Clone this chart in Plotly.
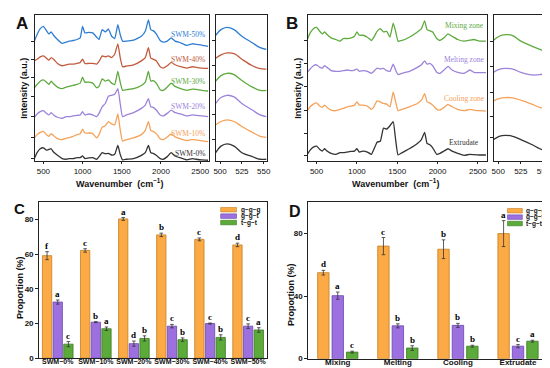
import plotly.graph_objects as go

# ---------------- DATA ----------------
wn = [385, 420, 460, 500, 540, 570, 600, 630, 680, 740, 790, 830, 880, 930, 970, 1000,
      1030, 1080, 1130, 1180, 1210, 1250, 1290, 1330, 1370, 1410, 1450, 1480, 1510, 1560,
      1650, 1750, 1800, 1840, 1870, 1900, 1940, 1990, 2030, 2080, 2130, 2180, 2250, 2330,
      2400, 2450, 2520, 2600]

swm_names = ["SWM-50%", "SWM-40%", "SWM-30%", "SWM-20%", "SWM-10%", "SWM-0%"]
swm50 = [365,385,403,410,397,387,393,383,370,358,362,365,367,370,375,410,390,392,390,377,370,400,393,402,380,373,415,385,365,365,368,380,395,430,400,397,387,367,362,365,375,365,360,352,357,355,353,349]
swm40 = [305,310,317,320,313,307,315,310,297,290,293,295,295,297,300,310,297,297,297,295,303,320,317,320,315,325,357,315,287,289,293,305,315,345,313,310,305,287,283,290,300,293,287,283,287,285,283,282]
swm30 = [223,233,243,247,240,233,243,235,225,220,225,227,230,233,237,255,240,240,237,223,227,250,243,247,237,233,273,240,215,217,220,230,240,273,243,245,237,217,215,225,237,227,220,215,219,218,215,213]
swm20 = [133,143,150,153,145,140,147,140,133,130,135,135,137,139,140,150,140,143,140,135,145,165,175,197,200,203,220,175,135,140,147,160,170,190,165,163,155,140,137,145,155,147,143,137,140,139,137,135]
swm10 = [70,80,87,90,80,75,83,77,68,65,69,71,75,80,83,97,85,85,83,70,80,103,107,120,113,110,143,95,60,65,70,80,93,120,93,90,83,67,65,73,82,73,67,62,65,64,61,59]
swm0 = [7,25,37,40,33,35,37,27,17,7,5,7,7,10,10,15,7,9,10,5,13,25,22,23,18,20,47,20,3,5,7,17,25,47,25,23,17,7,5,13,25,15,9,3,7,5,3,2]

zone_names = ["Mixing zone", "Melting zone", "Cooling zone", "Extrudate"]
mixing = [370,390,403,407,395,387,393,385,375,370,365,373,373,375,380,393,383,383,377,367,377,395,403,393,395,377,420,395,365,367,377,393,403,427,400,397,393,373,367,375,387,380,370,365,368,370,365,365]
melting = [270,280,290,293,285,283,290,285,275,273,273,275,277,275,277,280,273,275,273,267,273,283,280,282,275,273,295,277,263,267,273,285,293,305,295,297,290,270,267,277,288,277,270,267,277,270,269,269]
cooling = [153,165,173,177,167,163,170,163,155,153,157,160,165,167,170,180,170,170,167,157,165,183,180,175,173,165,210,180,153,157,165,175,185,205,180,177,170,157,155,163,172,165,157,153,157,155,153,152]
extrudate = [20,33,42,45,35,30,37,30,23,20,25,25,27,29,30,37,27,30,27,20,35,57,60,100,97,107,120,65,18,25,37,53,65,87,53,50,40,20,23,30,37,30,23,17,20,19,18,18]

side_wn = [495, 501, 508, 516, 525, 537, 546, 553]
side_swm50 = [383,400,407,400,380,360,345,340]
side_swm40 = [313,323,329,327,310,290,281,280]
side_swm30 = [243,260,267,263,245,225,215,215]
side_swm20 = [175,193,200,195,175,155,140,135]
side_swm10 = [110,120,125,120,105,87,75,72]
side_swm0 = [25,45,52,45,25,13,5,5]
side_mixing = [368,380,385,382,365,350,340,333]
side_melting = [270,279,282,280,270,262,263,267]
side_cooling = [183,190,193,192,185,173,163,160]
side_extrudate = [65,75,78,75,65,50,37,30]

# label y-positions (intensity units)
swm_label_y = [384, 309, 243, 165, 84, 24]
zone_label_y = [414, 309, 189, 57]

conf_names = ["g\u2212g\u2212g", "g\u2212g\u2212t", "t\u2212g\u2212t"]
c_categories = ["SWM\u22120%", "SWM\u221210%", "SWM\u221220%", "SWM\u221230%", "SWM\u221240%", "SWM\u221250%"]
c_ggg = [59.2, 62.2, 80.4, 71.2, 68.6, 65.4]
c_ggg_err = [2.3, 1.0, 0.8, 1.0, 0.8, 1.0]
c_ggt = [32.4, 20.8, 8.4, 18.5, 20.0, 18.5]
c_ggt_err = [1.2, 0.3, 1.5, 1.0, 0.3, 1.3]
c_tgt = [8.1, 17.0, 11.4, 10.7, 12.0, 16.3]
c_tgt_err = [1.5, 1.0, 1.5, 1.0, 1.5, 1.3]
c_ggg_sig = ["f", "c", "a", "b", "c", "d"]
c_ggt_sig = ["a", "b", "d", "c", "c", "c"]
c_tgt_sig = ["c", "a", "b", "b", "b", "a"]

d_categories = ["Mixing", "Melting", "Cooling", "Extrudate"]
d_ggg = [55.0, 72.0, 70.0, 80.0]
d_ggg_err = [1.5, 5.5, 6.0, 8.3]
d_ggt = [40.3, 21.0, 21.3, 8.0]
d_ggt_err = [2.3, 1.3, 1.3, 1.0]
d_tgt = [4.2, 6.8, 8.0, 11.2]
d_tgt_err = [0.6, 1.5, 0.6, 0.6]
d_ggg_sig = ["d", "c", "b", "a"]
d_ggt_sig = ["a", "b", "b", "c"]
d_tgt_sig = ["c", "b", "b", "a"]

# ---------------- STYLE ----------------
W, H = 550, 368
SANS = "Liberation Sans"
SERIF = "Liberation Serif"
spec_colors = ["#2F7DD3", "#C25A3C", "#5EAA3F", "#9C83DA", "#F5A25A", "#333333"]
zone_colors = ["#5EAA3F", "#9C83DA", "#F5A25A", "#333333"]
bar_fill = ["#FBAA45", "#9D70E0", "#5BAA3A"]
bar_line = ["#C47F22", "#6A45AE", "#3B7A22"]


def fx(p):
    return p / W


def fy(p):
    return 1 - p / H


fig = go.Figure()

A_main = [swm50, swm40, swm30, swm20, swm10, swm0]
A_side = [side_swm50, side_swm40, side_swm30, side_swm20, side_swm10, side_swm0]
B_main = [mixing, melting, cooling, extrudate]
B_side = [side_mixing, side_melting, side_cooling, side_extrudate]

for ys, col, name in zip(A_main, spec_colors, swm_names):
    fig.add_trace(go.Scatter(x=wn, y=ys, mode="lines", line=dict(color=col, width=1.3, shape="spline", smoothing=0.4),
                             xaxis="x", yaxis="y", name=name, showlegend=False))
for ys, col in zip(A_side, spec_colors):
    fig.add_trace(go.Scatter(x=side_wn, y=ys, mode="lines", line=dict(color=col, width=1.3, shape="spline"),
                             xaxis="x2", yaxis="y2", showlegend=False))
for ys, col, name in zip(B_main, zone_colors, zone_names):
    fig.add_trace(go.Scatter(x=wn, y=ys, mode="lines", line=dict(color=col, width=1.3, shape="spline", smoothing=0.4),
                             xaxis="x3", yaxis="y3", name=name, showlegend=False))
for ys, col in zip(B_side, zone_colors):
    fig.add_trace(go.Scatter(x=side_wn, y=ys, mode="lines", line=dict(color=col, width=1.3, shape="spline"),
                             xaxis="x4", yaxis="y4", showlegend=False))

# bars
c_width = 0.245
c_centers = [-0.28, 0.0, 0.28]
d_width = 0.19
d_centers = [-0.24, 0.0, 0.24]

annotations = []


def add_bars(cats, series, errs, sigs, xa, ya, width, centers):
    xs = list(range(len(cats)))
    for k in range(3):
        fig.add_trace(go.Bar(x=xs, y=series[k], width=width, offset=centers[k] - width / 2,
                             marker=dict(color=bar_fill[k], line=dict(color=bar_line[k], width=0.8)),
                             error_y=dict(type="data", array=errs[k], color="#333333", thickness=0.8, width=1.8),
                             xaxis=xa, yaxis=ya, name=conf_names[k], showlegend=False))
        for i in xs:
            annotations.append(dict(x=i + centers[k], y=series[k][i] + errs[k][i], xref=xa, yref=ya,
                                    text=f"<b>{sigs[k][i]}</b>", showarrow=False, yanchor="bottom", yshift=-1,
                                    font=dict(family=SERIF, size=9, color="#000000")))


add_bars(c_categories, [c_ggg, c_ggt, c_tgt], [c_ggg_err, c_ggt_err, c_tgt_err],
         [c_ggg_sig, c_ggt_sig, c_tgt_sig], "x5", "y5", c_width, c_centers)
add_bars(d_categories, [d_ggg, d_ggt, d_tgt], [d_ggg_err, d_ggt_err, d_tgt_err],
         [d_ggg_sig, d_ggt_sig, d_tgt_sig], "x6", "y6", d_width, d_centers)

# spectra labels
for name, yv, col in zip(swm_names, swm_label_y, spec_colors):
    annotations.append(dict(x=2585, y=yv, xref="x", yref="y", text=name, showarrow=False, xanchor="right",
                            font=dict(family=SERIF, size=7.5, color=col)))
for name, yv, col in zip(zone_names, zone_label_y, zone_colors):
    annotations.append(dict(x=2330, y=yv, xref="x3", yref="y3", text=name, showarrow=False, xanchor="center",
                            font=dict(family=SERIF, size=7.5, color=col)))

# titles & panel letters
def ann(px, py, text, size, bold=True, angle=0, family=SANS, xanchor="center", color="#111111"):
    annotations.append(dict(x=fx(px), y=fy(py), xref="paper", yref="paper", text=f"<b>{text}</b>" if bold else text,
                            showarrow=False, textangle=angle, xanchor=xanchor, yanchor="middle",
                            font=dict(family=family, size=size, color=color)))


ann(12, 16, "A", 17)
ann(285, 16, "B", 17)
ann(10, 203, "C", 15)
ann(288, 206, "D", 16)
ann(14, 81, "Intensity (a.u.)", 9, angle=-90)
ann(291, 81, "Intensity (a.u.)", 9, angle=-90)
ann(111, 177, "Wavenumber  (cm<sup>\u22121</sup>)", 9)
ann(390, 177, "Wavenumber  (cm<sup>\u22121</sup>)", 9)
ann(10, 283, "Proportion (%)", 9, angle=-90)
ann(284, 290, "Proportion (%)", 9, angle=-90)

# manual legends
shapes = []
def legend(x0, x1, ycs, tx):
    for k in range(3):
        shapes.append(dict(type="rect", xref="paper", yref="paper", x0=fx(x0), x1=fx(x1),
                           y0=fy(ycs[k] + 2.3), y1=fy(ycs[k] - 2.3),
                           fillcolor=bar_fill[k], line=dict(color=bar_line[k], width=0.6)))
        annotations.append(dict(x=fx(tx), y=fy(ycs[k]), xref="paper", yref="paper", text=f"<b>{conf_names[k]}</b>",
                                showarrow=False, xanchor="left", yanchor="middle",
                                font=dict(family=SANS, size=6.5, color="#111111")))


legend(213, 229, [204.5, 211, 217.5], 232)
legend(503, 518, [205.5, 212, 218.5], 520)

axis_common = dict(showgrid=False, zeroline=False, showline=True, linecolor="#222222", linewidth=1,
                   mirror=True, ticks="outside", ticklen=2.5, tickcolor="#222222",
                   tickfont=dict(family=SANS, size=8, color="#111111"))

spec_y_range = [0, 445]
layout = dict(
    width=W, height=H, margin=dict(l=0, r=0, t=0, b=0),
    paper_bgcolor="white", plot_bgcolor="white", showlegend=False, barmode="overlay",
    xaxis=dict(domain=[fx(25), fx(201)], range=[390, 2610], tickvals=[500, 1000, 1500, 2000, 2500], anchor="y", **axis_common),
    yaxis=dict(domain=[fy(155), fy(7)], range=spec_y_range, tickvals=[7, 70, 135, 197, 255, 310, 365], showticklabels=False, anchor="x", **axis_common),
    xaxis2=dict(domain=[fx(208), fx(260)], range=[495, 554], tickvals=[500, 525, 550], anchor="y2", **axis_common),
    yaxis2=dict(domain=[fy(155), fy(7)], range=spec_y_range, tickvals=[65, 140, 215, 290, 367], showticklabels=False, anchor="x2", **axis_common),
    xaxis3=dict(domain=[fx(301), fx(482)], range=[390, 2610], tickvals=[500, 1000, 1500, 2000, 2500], anchor="y3", **axis_common),
    yaxis3=dict(domain=[fy(155), fy(7)], range=spec_y_range, tickvals=[15, 83, 155, 227, 298, 368], showticklabels=False, anchor="x3", **axis_common),
    xaxis4=dict(domain=[fx(489), fx(543)], range=[495, 554], tickvals=[500, 525, 550], anchor="y4", **axis_common),
    yaxis4=dict(domain=[fy(155), fy(7)], range=spec_y_range, tickvals=[70, 135, 210, 287, 365], showticklabels=False, anchor="x4", **axis_common),
    xaxis5=dict(domain=[fx(29), fx(260)], range=[-0.5, len(c_categories) - 0.5], tickvals=list(range(len(c_categories))),
                ticktext=[f"<b>{c}</b>" for c in c_categories], anchor="y5", ticklabelstandoff=-4,
                **{**axis_common, "ticks": "", "tickfont": dict(family=SANS, size=7, color="#111111")}),
    yaxis5=dict(domain=[fy(355), fy(197)], range=[0, 90], tickvals=[0, 20, 40, 60, 80],
                ticktext=["<b>0</b>", "<b>20</b>", "<b>40</b>", "<b>60</b>", "<b>80</b>"], anchor="x5", **axis_common),
    xaxis6=dict(domain=[fx(301), fx(544)], range=[-0.5, len(d_categories) - 0.5], tickvals=list(range(len(d_categories))),
                ticktext=[f"<b>{c}</b>" for c in d_categories], anchor="y6", ticklabelstandoff=-4,
                **{**axis_common, "ticks": "", "tickfont": dict(family=SANS, size=8, color="#111111")}),
    yaxis6=dict(domain=[fy(355.5), fy(197)], range=[0, 100], tickvals=[0, 40, 80],
                ticktext=["<b>0</b>", "<b>40</b>", "<b>80</b>"], anchor="x6", **axis_common),
    annotations=annotations,
    shapes=shapes,
)
fig.update_layout(**layout)
fig.write_html("out.html")
